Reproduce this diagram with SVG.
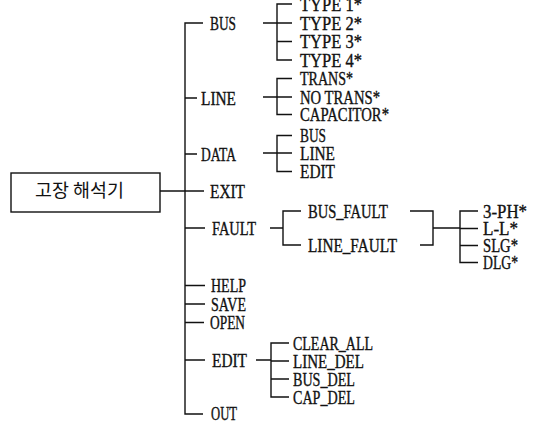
<svg xmlns="http://www.w3.org/2000/svg" width="540" height="421" viewBox="0 0 540 421">
<style>
.t{font-family:"Liberation Serif","Times New Roman",serif;font-size:18.5px;fill:#111;stroke:#111;stroke-width:0.35px;}
.k{font-family:"Noto Sans CJK KR","Noto Sans",sans-serif;font-size:18.5px;fill:#111;}
.c path,.box{fill:none;stroke:#111;stroke-width:1.4;}
</style>
<rect width="540" height="421" fill="#fff"/>
<g id="connectors" class="c">
<path d="M160,191 H204"/>
<path d="M203,23 H185 V414 H203"/>
<path d="M185,98 H197 M185,154 H197 M185,228 H205 M185,285.5 H205 M185,304 H205 M185,322.5 H204 M185,360 H205"/>
<path d="M263,23 H277 M292,4 H277 V60 H292 M277,23 H292 M277,41.5 H292"/>
<path d="M263,97 H277 M292,78.5 H277 V114.5 H292 M277,97 H292"/>
<path d="M263,153 H277 M292,135.5 H277 V171.5 H292 M277,153 H292"/>
<path d="M270,228 H283 M301,211 H283 V245 H301"/>
<path d="M410,211 H433 V245 H420 M433,228 H460"/>
<path d="M478,211 H460 V262.5 H478 M460,228.5 H478 M460,245.5 H478"/>
<path d="M256,360 H271 M289,343 H271 V397 H289 M271,361 H289 M271,379 H289"/>
</g>
<g id="root">
<rect class="box" x="11" y="173" width="149" height="39"/>
<text class="k" x="35" y="197" textLength="89" lengthAdjust="spacingAndGlyphs">고장 해석기</text>
</g>
<g id="bus"><text class="t" x="210" y="29.5" textLength="26" lengthAdjust="spacingAndGlyphs">BUS</text></g>
<g id="line"><text class="t" x="201" y="104.5" textLength="35" lengthAdjust="spacingAndGlyphs">LINE</text></g>
<g id="data"><text class="t" x="201" y="160.5" textLength="35" lengthAdjust="spacingAndGlyphs">DATA</text></g>
<g id="exit"><text class="t" x="210" y="197.5" textLength="35" lengthAdjust="spacingAndGlyphs">EXIT</text></g>
<g id="fault"><text class="t" x="212" y="234.5" textLength="44" lengthAdjust="spacingAndGlyphs">FAULT</text></g>
<g id="help"><text class="t" x="211" y="292" textLength="35" lengthAdjust="spacingAndGlyphs">HELP</text></g>
<g id="save"><text class="t" x="211" y="310.5" textLength="35" lengthAdjust="spacingAndGlyphs">SAVE</text></g>
<g id="open"><text class="t" x="210" y="329" textLength="35" lengthAdjust="spacingAndGlyphs">OPEN</text></g>
<g id="edit"><text class="t" x="212" y="366.5" textLength="35" lengthAdjust="spacingAndGlyphs">EDIT</text></g>
<g id="out"><text class="t" x="211" y="420" textLength="26" lengthAdjust="spacingAndGlyphs">OUT</text></g>
<g id="type1"><text class="t" x="300" y="10.5" textLength="62" lengthAdjust="spacingAndGlyphs">TYPE 1*</text></g>
<g id="type2"><text class="t" x="300" y="29.5" textLength="62" lengthAdjust="spacingAndGlyphs">TYPE 2*</text></g>
<g id="type3"><text class="t" x="300" y="48" textLength="62" lengthAdjust="spacingAndGlyphs">TYPE 3*</text></g>
<g id="type4"><text class="t" x="300" y="66.5" textLength="62" lengthAdjust="spacingAndGlyphs">TYPE 4*</text></g>
<g id="trans"><text class="t" x="300" y="85" textLength="53" lengthAdjust="spacingAndGlyphs">TRANS*</text></g>
<g id="notrans"><text class="t" x="300" y="103.5" textLength="80" lengthAdjust="spacingAndGlyphs">NO TRANS*</text></g>
<g id="capacitor"><text class="t" x="300" y="121" textLength="89" lengthAdjust="spacingAndGlyphs">CAPACITOR*</text></g>
<g id="data-bus"><text class="t" x="300" y="142" textLength="26" lengthAdjust="spacingAndGlyphs">BUS</text></g>
<g id="data-line"><text class="t" x="300" y="159.5" textLength="35" lengthAdjust="spacingAndGlyphs">LINE</text></g>
<g id="data-edit"><text class="t" x="300" y="178" textLength="35" lengthAdjust="spacingAndGlyphs">EDIT</text></g>
<g id="bus-fault"><text class="t" x="308" y="217.5" textLength="80" lengthAdjust="spacingAndGlyphs">BUS_FAULT</text></g>
<g id="line-fault"><text class="t" x="308" y="251.5" textLength="89" lengthAdjust="spacingAndGlyphs">LINE_FAULT</text></g>
<g id="ph3"><text class="t" x="483" y="217.5" textLength="44" lengthAdjust="spacingAndGlyphs">3-PH*</text></g>
<g id="ll"><text class="t" x="483" y="235" textLength="35" lengthAdjust="spacingAndGlyphs">L-L*</text></g>
<g id="slg"><text class="t" x="483" y="252" textLength="35" lengthAdjust="spacingAndGlyphs">SLG*</text></g>
<g id="dlg"><text class="t" x="483" y="269" textLength="35" lengthAdjust="spacingAndGlyphs">DLG*</text></g>
<g id="clear-all"><text class="t" x="293" y="349.5" textLength="80" lengthAdjust="spacingAndGlyphs">CLEAR_ALL</text></g>
<g id="line-del"><text class="t" x="293" y="367.5" textLength="71" lengthAdjust="spacingAndGlyphs">LINE_DEL</text></g>
<g id="bus-del"><text class="t" x="293" y="385.5" textLength="62" lengthAdjust="spacingAndGlyphs">BUS_DEL</text></g>
<g id="cap-del"><text class="t" x="293" y="403.5" textLength="62" lengthAdjust="spacingAndGlyphs">CAP_DEL</text></g>
</svg>
